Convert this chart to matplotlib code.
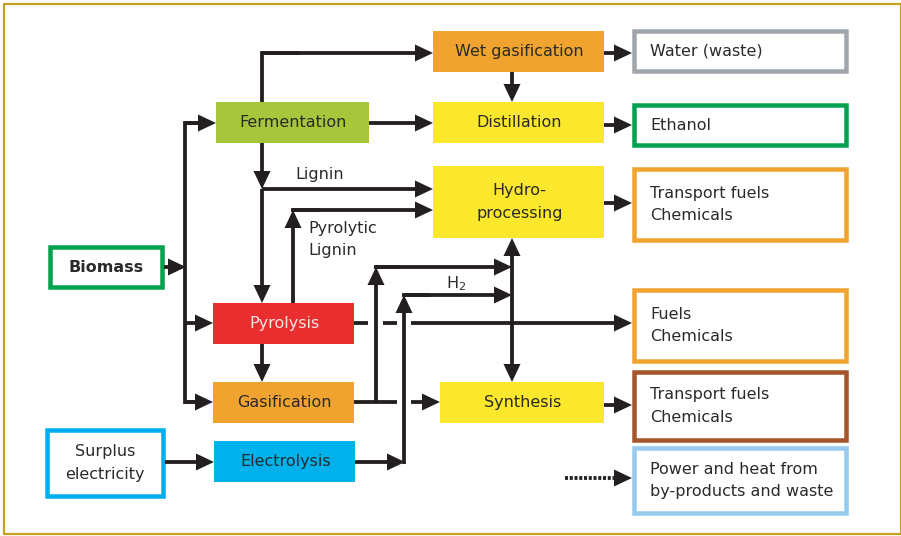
#!/usr/bin/env python3
"""Biomass conversion routes - flow diagram."""

import matplotlib
matplotlib.use("Agg")
import matplotlib.pyplot as plt
from matplotlib.patches import Rectangle, Polygon

# ============================================================================
# Data: box labels and side labels
# ============================================================================

PROCESS_LABELS = ["Wet gasification", "Fermentation", "Distillation", "Hydro-\nprocessing",
                  "Pyrolysis", "Gasification", "Synthesis", "Electrolysis"]
SOURCE_LABELS = ["Biomass", "Surplus\nelectricity"]
PRODUCT_LABELS = ["Water (waste)", "Ethanol", "Transport fuels\nChemicals",
                  "Fuels\nChemicals", "Transport fuels\nChemicals",
                  "Power and heat from\nby-products and waste"]
FLOW_LABELS = ["Lignin", "Pyrolytic\nLignin", "H$_2$"]

# ============================================================================
# Layout (pixel coordinates, y grows downwards): x0, y0, x1, y1
# ============================================================================

PROCESS_BOXES = [
    (433, 31, 604, 72), (216, 102, 369, 143), (433, 102, 604, 143), (433, 166, 604, 238),
    (213, 303, 354, 344), (213, 382, 354, 423), (440, 382, 604, 423), (214, 441, 355, 482),
]
PROCESS_COLORS = ["#F0A32E", "#A8C63C", "#FBE72B", "#FBE72B",
                  "#EA2E30", "#F0A32E", "#FBE72B", "#00B1EC"]
PROCESS_TEXT_COLORS = ["#2a2a2a"] * 4 + ["#FCE4E4"] + ["#2a2a2a"] * 3

SOURCE_BOXES = [(48, 245, 164, 289), (45, 428, 165, 498)]
SOURCE_COLORS = ["#00A14F", "#00AEEF"]

PRODUCT_BOXES = [(632, 29, 848, 73), (632, 103, 848, 147), (632, 167, 848, 242),
                 (632, 288, 848, 363), (632, 370, 848, 442), (632, 446, 848, 515)]
PRODUCT_COLORS = ["#A1A6AC", "#00A14F", "#F0A32E", "#F0A32E", "#A5552B", "#96CBEE"]

FLOW_POS = [(295, 174), (308, 228), (446, 284)]

INK = "#231F20"
TEXT = "#2a2a2a"
FONT = "DejaVu Sans"
FS = 11.5
LINE_GAP = 22.5
LW_PX = 3.8
HEAD_L = 18
HEAD_W = 8.5

DPI = 100
PX = 72.0 / DPI


def seg(ax, pts, **kw):
    xs, ys = zip(*pts)
    ax.plot(xs, ys, color=INK, lw=LW_PX * PX, solid_capstyle="butt",
            solid_joinstyle="miter", **kw)


def head(ax, p_from, p_to):
    (x0, y0), (x1, y1) = p_from, p_to
    dx, dy = x1 - x0, y1 - y0
    n = (dx * dx + dy * dy) ** 0.5
    ux, uy = dx / n, dy / n
    bx, by = x1 - ux * HEAD_L, y1 - uy * HEAD_L
    tri = [(x1, y1), (bx - uy * HEAD_W, by + ux * HEAD_W), (bx + uy * HEAD_W, by - ux * HEAD_W)]
    ax.add_patch(Polygon(tri, closed=True, facecolor=INK, edgecolor="none", zorder=4))
    return bx, by


def arrow(ax, p_from, p_to):
    bx, by = head(ax, p_from, p_to)
    seg(ax, [p_from, (bx + (p_to[0] - bx) * 0.1, by + (p_to[1] - by) * 0.1)])


def lines_text(ax, x, y_center, label, ha="center", **kw):
    parts = label.split("\n")
    y0 = y_center - (len(parts) - 1) * LINE_GAP / 2
    for i, p in enumerate(parts):
        ax.text(x, y0 + i * LINE_GAP, p, ha=ha, va="center", family=FONT,
                fontsize=FS, **kw)


plt.rcParams["mathtext.default"] = "regular"
fig = plt.figure(figsize=(9.01, 5.36), dpi=DPI)
ax = fig.add_axes([0, 0, 1, 1])
ax.set_xlim(0, 901)
ax.set_ylim(536, 0)
ax.axis("off")

# outer frame
ax.add_patch(Rectangle((3.5, 4), 897, 530, fill=False, edgecolor="#C4A21E", lw=2.2 * PX))

# process boxes
for (x0, y0, x1, y1), lab, col, tcol in zip(PROCESS_BOXES, PROCESS_LABELS,
                                             PROCESS_COLORS, PROCESS_TEXT_COLORS):
    ax.add_patch(Rectangle((x0, y0), x1 - x0, y1 - y0, facecolor=col, edgecolor="none"))
    lines_text(ax, (x0 + x1) / 2 + 1, (y0 + y1) / 2, lab, color=tcol)

# source boxes
OB = 4.5
for (x0, y0, x1, y1), lab, col in zip(SOURCE_BOXES, SOURCE_LABELS, SOURCE_COLORS):
    ax.add_patch(Rectangle((x0 + OB / 2, y0 + OB / 2), x1 - x0 - OB, y1 - y0 - OB,
                           facecolor="white", edgecolor=col, lw=OB * PX))
weights = ["bold", "normal"]
for (x0, y0, x1, y1), lab, w in zip(SOURCE_BOXES, SOURCE_LABELS, weights):
    lines_text(ax, (x0 + x1) / 2, (y0 + y1) / 2, lab, color=TEXT, fontweight=w)

# product boxes
for (x0, y0, x1, y1), lab, col in zip(PRODUCT_BOXES, PRODUCT_LABELS, PRODUCT_COLORS):
    ax.add_patch(Rectangle((x0 + OB / 2, y0 + OB / 2), x1 - x0 - OB, y1 - y0 - OB,
                           facecolor="white", edgecolor=col, lw=OB * PX))
    lines_text(ax, x0 + 18, (y0 + y1) / 2, lab, ha="left", color=TEXT)

# flow labels
for (x, y), lab in zip(FLOW_POS, FLOW_LABELS):
    lines_text(ax, x, y + (LINE_GAP / 2 if "\n" in lab else 0), lab, ha="left", color=TEXT)

# ---- connections ----
# biomass feed and trunk
arrow(ax, (164, 267), (186, 267))
seg(ax, [(199, 123), (185, 123), (185, 402), (199, 402)])
arrow(ax, (185, 123), (216, 123))
arrow(ax, (185, 323), (213, 323))
arrow(ax, (185, 402), (213, 402))

# fermentation
seg(ax, [(262, 102), (262, 53), (300, 53)])
arrow(ax, (262, 53), (433, 53))
arrow(ax, (369, 123), (433, 123))
arrow(ax, (262, 143), (262, 189))
arrow(ax, (262, 189), (262, 303))
arrow(ax, (262, 189), (433, 189))

# wet gasification / distillation / hydro outputs
arrow(ax, (604, 53), (632, 53))
arrow(ax, (512, 72), (512, 102))
arrow(ax, (604, 125), (632, 125))
arrow(ax, (604, 203), (632, 203))

# pyrolysis
arrow(ax, (293, 303), (293, 210))
seg(ax, [(293, 210), (320, 210)])
arrow(ax, (291.1, 210), (433, 210))
arrow(ax, (262, 344), (262, 382))
seg(ax, [(354, 323), (368, 323)])
seg(ax, [(383, 323), (397, 323)])
arrow(ax, (411, 323), (632, 323))

# gasification
seg(ax, [(354, 402), (397, 402)])
arrow(ax, (411, 402), (440, 402))
arrow(ax, (376, 402), (376, 267))
seg(ax, [(374.1, 267), (400, 267)])
arrow(ax, (376, 267), (512, 267))

# electrolysis
arrow(ax, (165, 462), (214, 462))
arrow(ax, (355, 462), (405, 462))
arrow(ax, (404, 464), (404, 295))
seg(ax, [(402.1, 295), (430, 295)])
arrow(ax, (404, 295), (512, 295))

# hydro <-> synthesis
seg(ax, [(512, 255), (512, 365)])
head(ax, (512, 300), (512, 238))
head(ax, (512, 300), (512, 382))
arrow(ax, (604, 405), (632, 405))

# dotted line to power and heat
ax.plot([565, 615], [478, 478], color=INK, lw=LW_PX * PX, linestyle=(0, (0.8, 0.45)),
        solid_capstyle="butt", dash_capstyle="butt")
head(ax, (565, 478), (632, 478))

fig.savefig("out.png", dpi=DPI)
plt.close(fig)
